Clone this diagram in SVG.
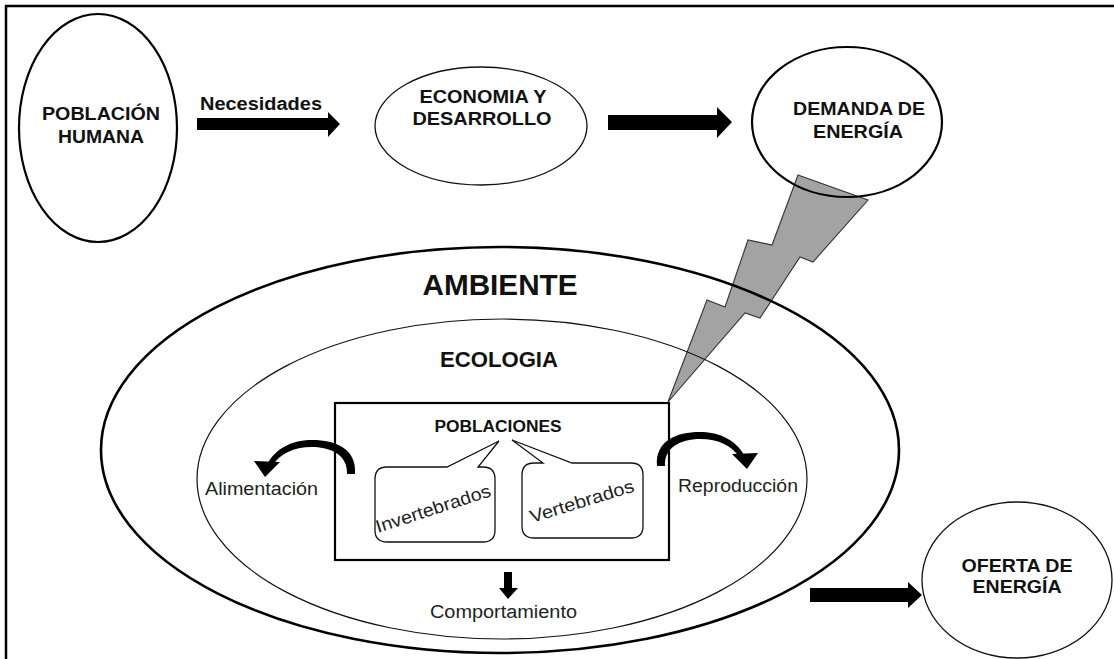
<svg xmlns="http://www.w3.org/2000/svg" width="1114" height="659" viewBox="0 0 1114 659">
<style>
  .b { font-family: "Liberation Sans", Arial, sans-serif; font-weight: bold; fill: #111; }
  .r { font-family: "Liberation Sans", Arial, sans-serif; font-weight: normal; fill: #222; }
  .thick { fill: none; stroke: #000; stroke-width: 2.2; }
  .thin { fill: none; stroke: #111; stroke-width: 1.3; }
  .blk { fill: #000; stroke: none; }
</style>
<defs>
  <g id="curvedArrow">
    <path class="blk" d="M657,466 C655,441 676,432 700,432 C722,432 737,442 744,455 L739,457 C732,446 719,439 700,439 C680,439 664,448 665,466 Z"/>
    <path class="blk" d="M732,454 L758,453 L747,469 Z"/>
  </g>
</defs>
<rect x="0" y="0" width="1114" height="659" fill="#fff"/>
<path d="M6,662 V6 H1116" fill="none" stroke="#000" stroke-width="2.5"/>

<g id="connectors">
  <path id="bolt" d="M798,175 L868,200 L813,262 L800,257 L760,318 L745,313 L668,402 L707,300 L725,307 L748,240 L772,245 Z" fill="#a3a3a3" stroke="#333" stroke-width="1.1" stroke-linejoin="miter"/>
  <path class="blk" d="M197,118 H328 V112 L340,124 L328,137 V130 H197 Z"/>
  <text class="b" x="200" y="110" font-size="18" textLength="122" lengthAdjust="spacingAndGlyphs">Necesidades</text>
  <path class="blk" d="M608,115 H717 V107 L732,122 L717,138 V130 H608 Z"/>
  <path class="blk" d="M810,588 H908 V582 L922,595 L908,608 V602 H810 Z"/>
  <path class="blk" d="M504,572 H512 V588 H518 L508,599 L499,588 H504 Z"/>
  <use href="#curvedArrow"/>
  <use href="#curvedArrow" transform="translate(1012,8) scale(-1,1)"/>
</g>

<g id="poblacion-humana">
  <ellipse class="thick" cx="98" cy="128" rx="79" ry="114"/>
  <text class="b" x="101" y="120" font-size="18" text-anchor="middle" textLength="118" lengthAdjust="spacingAndGlyphs">POBLACIÓN</text>
  <text class="b" x="101" y="143" font-size="18" text-anchor="middle" textLength="86" lengthAdjust="spacingAndGlyphs">HUMANA</text>
</g>

<g id="economia">
  <ellipse class="thin" cx="481" cy="126" rx="106" ry="59"/>
  <text class="b" x="483" y="103" font-size="18" text-anchor="middle" textLength="127" lengthAdjust="spacingAndGlyphs">ECONOMIA Y</text>
  <text class="b" x="482" y="125" font-size="18" text-anchor="middle" textLength="139" lengthAdjust="spacingAndGlyphs">DESARROLLO</text>
</g>

<g id="demanda">
  <ellipse class="thick" cx="847" cy="122" rx="95" ry="75"/>
  <text class="b" x="859" y="115" font-size="18" text-anchor="middle" textLength="132" lengthAdjust="spacingAndGlyphs">DEMANDA DE</text>
  <text class="b" x="858" y="138" font-size="18" text-anchor="middle" textLength="90" lengthAdjust="spacingAndGlyphs">ENERGÍA</text>
</g>

<g id="ambiente">
  <ellipse fill="none" stroke="#000" stroke-width="2.6" cx="500" cy="450" rx="399" ry="203"/>
  <text class="b" x="500" y="295" font-size="29" text-anchor="middle" textLength="155" lengthAdjust="spacingAndGlyphs">AMBIENTE</text>
</g>

<g id="ecologia">
  <ellipse fill="none" stroke="#111" stroke-width="1.2" cx="502" cy="479" rx="305" ry="160"/>
  <text class="b" x="499" y="367" font-size="22" text-anchor="middle" textLength="118" lengthAdjust="spacingAndGlyphs">ECOLOGIA</text>
</g>

<g id="poblaciones">
  <rect x="335" y="403" width="334" height="157" fill="none" stroke="#000" stroke-width="2.2"/>
  <text class="b" x="498" y="432" font-size="16" text-anchor="middle" textLength="127" lengthAdjust="spacingAndGlyphs">POBLACIONES</text>
</g>

<g id="invertebrados">
  <path class="thin" d="M387,467 H447 L499,441 L478,467 H483 Q495,467 495,479 V530 Q495,542 483,542 H387 Q375,542 375,530 V479 Q375,467 387,467 Z"/>
  <text class="r" x="378" y="533" font-size="18" transform="rotate(-18 378 533)" textLength="120" lengthAdjust="spacingAndGlyphs">Invertebrados</text>
</g>

<g id="vertebrados">
  <path class="thin" d="M534,463 H543 L512,440 L572,463 H631 Q643,463 643,475 V526 Q643,538 631,538 H534 Q522,538 522,526 V475 Q522,463 534,463 Z"/>
  <text class="r" x="532" y="523" font-size="18" transform="rotate(-17 532 523)" textLength="108" lengthAdjust="spacingAndGlyphs">Vertebrados</text>
</g>

<g id="alimentacion">
  <text class="r" x="261.5" y="495" font-size="18" text-anchor="middle" textLength="113" lengthAdjust="spacingAndGlyphs">Alimentación</text>
</g>

<g id="reproduccion">
  <text class="r" x="738" y="492" font-size="18" text-anchor="middle" textLength="120" lengthAdjust="spacingAndGlyphs">Reproducción</text>
</g>

<g id="comportamiento">
  <text class="r" x="503.5" y="618" font-size="18" text-anchor="middle" textLength="147" lengthAdjust="spacingAndGlyphs">Comportamiento</text>
</g>

<g id="oferta">
  <ellipse class="thin" cx="1017" cy="580" rx="95" ry="78"/>
  <text class="b" x="1017" y="572" font-size="18" text-anchor="middle" textLength="111" lengthAdjust="spacingAndGlyphs">OFERTA DE</text>
  <text class="b" x="1017" y="593" font-size="18" text-anchor="middle" textLength="89" lengthAdjust="spacingAndGlyphs">ENERGÍA</text>
</g>
</svg>
